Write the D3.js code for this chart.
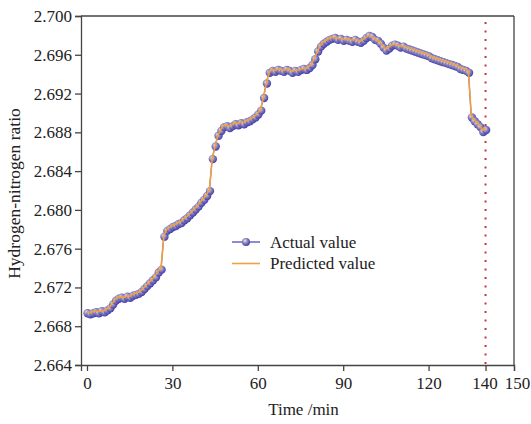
<!DOCTYPE html>
<html>
<head>
<meta charset="utf-8">
<script src="https://cdn.jsdelivr.net/npm/d3@7"></script>
<style>
  html, body { margin: 0; padding: 0; background: #fff; }
  svg { display: block; }
  text { font-family: "Liberation Serif", "Times New Roman", serif; fill: #222; }
</style>
</head>
<body>
<svg id="chart" width="531" height="424"></svg>
<script>
// Time in minutes, one sample per minute
const timeMin = d3.range(0, 141);

// Measured hydrogen-nitrogen ratio
const actualValue = [
  2.6694, 2.6693, 2.6694, 2.6695, 2.6694, 2.6696, 2.6695, 2.6697, 2.6699, 2.6703,
  2.6707, 2.6709, 2.6710, 2.6709, 2.6711, 2.6710, 2.6712, 2.6713, 2.6714, 2.6716,
  2.6719, 2.6722, 2.6725, 2.6728, 2.6731, 2.6736, 2.6739, 2.6773, 2.6779, 2.6781,
  2.6783, 2.6784, 2.6786, 2.6787, 2.6790, 2.6792, 2.6795, 2.6798, 2.6801, 2.6804,
  2.6808, 2.6811, 2.6815, 2.6820, 2.6853, 2.6866, 2.6877, 2.6882, 2.6886, 2.6887,
  2.6885, 2.6887, 2.6889, 2.6888, 2.6890, 2.6889, 2.6891, 2.6892, 2.6894, 2.6896,
  2.6899, 2.6903, 2.6916, 2.6931, 2.6942, 2.6944, 2.6943, 2.6945, 2.6944, 2.6943,
  2.6945, 2.6944, 2.6942, 2.6944, 2.6943, 2.6945, 2.6946, 2.6945, 2.6947, 2.6950,
  2.6956, 2.6964, 2.6969, 2.6972, 2.6974, 2.6976, 2.6977, 2.6978, 2.6976, 2.6977,
  2.6975, 2.6976, 2.6975, 2.6974, 2.6976, 2.6974, 2.6973, 2.6975, 2.6978, 2.6980,
  2.6979, 2.6976, 2.6975, 2.6972, 2.6968, 2.6965, 2.6967, 2.6970, 2.6971, 2.6970,
  2.6968, 2.6969, 2.6967, 2.6966, 2.6965, 2.6964, 2.6963, 2.6962, 2.6961, 2.6960,
  2.6959, 2.6957, 2.6956, 2.6955, 2.6954, 2.6953, 2.6952, 2.6951, 2.6950, 2.6949,
  2.6948, 2.6946, 2.6945, 2.6944, 2.6942, 2.6896, 2.6892, 2.6889, 2.6886, 2.6881,
  2.6883
];

// Model prediction of the ratio
const predictedValue = [
  2.6695, 2.6694, 2.6695, 2.6696, 2.6695, 2.6696, 2.6696, 2.6698, 2.6700, 2.6704,
  2.6708, 2.6710, 2.6710, 2.6710, 2.6711, 2.6711, 2.6713, 2.6714, 2.6715, 2.6717,
  2.6720, 2.6723, 2.6726, 2.6729, 2.6732, 2.6737, 2.6740, 2.6773, 2.6780, 2.6782,
  2.6784, 2.6785, 2.6787, 2.6788, 2.6791, 2.6793, 2.6796, 2.6799, 2.6802, 2.6805,
  2.6809, 2.6812, 2.6816, 2.6821, 2.6853, 2.6866, 2.6877, 2.6883, 2.6887, 2.6888,
  2.6886, 2.6888, 2.6890, 2.6889, 2.6891, 2.6890, 2.6892, 2.6893, 2.6895, 2.6897,
  2.6900, 2.6904, 2.6916, 2.6931, 2.6942, 2.6945, 2.6944, 2.6945, 2.6945, 2.6944,
  2.6945, 2.6945, 2.6943, 2.6944, 2.6944, 2.6945, 2.6946, 2.6946, 2.6948, 2.6951,
  2.6957, 2.6964, 2.6970, 2.6973, 2.6975, 2.6977, 2.6978, 2.6978, 2.6977, 2.6977,
  2.6976, 2.6976, 2.6976, 2.6975, 2.6976, 2.6975, 2.6974, 2.6976, 2.6978, 2.6980,
  2.6979, 2.6977, 2.6975, 2.6973, 2.6969, 2.6966, 2.6968, 2.6970, 2.6971, 2.6970,
  2.6969, 2.6969, 2.6968, 2.6967, 2.6966, 2.6965, 2.6964, 2.6963, 2.6962, 2.6961,
  2.6960, 2.6958, 2.6957, 2.6956, 2.6955, 2.6954, 2.6953, 2.6952, 2.6951, 2.6950,
  2.6949, 2.6947, 2.6946, 2.6945, 2.6943, 2.6897, 2.6893, 2.6890, 2.6887, 2.6882,
  2.6884
];

const xTicks = [0, 30, 60, 90, 120, 140, 150];
const yTicks = [2.664, 2.668, 2.672, 2.676, 2.680, 2.684, 2.688, 2.692, 2.696, 2.700];
const forecastMarker = [140];
const legendLabels = ["Actual value", "Predicted value"];

const W = 531, H = 424;
const margin = { top: 16, right: 17, bottom: 59, left: 81 };
const innerW = W - margin.left - margin.right;
const innerH = H - margin.top - margin.bottom;

const svg = d3.select("#chart");

// Sphere-like shading for the data markers
const defs = svg.append("defs");
const grad = defs.append("radialGradient")
  .attr("id", "ball").attr("cx", "42%").attr("cy", "40%").attr("r", "62%")
  .attr("fx", "36%").attr("fy", "32%");
grad.append("stop").attr("offset", "0%").attr("stop-color", "#ebe8f2");
grad.append("stop").attr("offset", "45%").attr("stop-color", "#958cb8");
grad.append("stop").attr("offset", "100%").attr("stop-color", "#3d38b0");

const g = svg.append("g").attr("transform", `translate(${margin.left},${margin.top})`);

const x = d3.scaleLinear().domain([-2.1, 150]).range([0, innerW]);
const y = d3.scaleLinear().domain([2.664, 2.700]).range([innerH, 0]);

// Frame: top and right edges
g.append("line").attr("x1", 0).attr("x2", innerW).attr("y1", 0).attr("y2", 0)
  .attr("stroke", "#444").attr("stroke-width", 1.3);
g.append("line").attr("x1", innerW).attr("x2", innerW).attr("y1", 0).attr("y2", innerH)
  .attr("stroke", "#444").attr("stroke-width", 1.3);

// Axes
const xAxis = g.append("g").attr("transform", `translate(0,${innerH})`)
  .call(d3.axisBottom(x).tickValues(xTicks).tickFormat(d3.format("d")).tickSizeOuter(0).tickSize(6).tickPadding(6));
const yAxis = g.append("g")
  .call(d3.axisLeft(y).tickValues(yTicks).tickFormat(d3.format(".3f")).tickSizeOuter(0).tickSize(6).tickPadding(3));

[xAxis, yAxis].forEach(a => {
  a.select(".domain").attr("stroke", "#444").attr("stroke-width", 1.3);
  a.selectAll(".tick line").attr("stroke", "#444").attr("stroke-width", 1.3);
  a.selectAll(".tick text").attr("font-family", "Liberation Serif, serif")
    .attr("font-size", 17).attr("fill", "#222");
});
// Labels 140 and 150 sit close together
xAxis.selectAll(".tick text").filter(d => d === 140).attr("dx", -1);
xAxis.selectAll(".tick text").filter(d => d === 150).attr("dx", 3);

// Axis titles
g.append("text")
  .attr("x", innerW / 2 + 6).attr("y", innerH + 50)
  .attr("text-anchor", "middle").attr("font-size", 17)
  .text("Time /min");
g.append("text")
  .attr("transform", `translate(${-61},${innerH / 2 + 3}) rotate(-90)`)
  .attr("text-anchor", "middle").attr("font-size", 17.5)
  .text("Hydrogen-nitrogen ratio");

// Vertical dotted marker at the end of the record
g.selectAll(".vmark").data(forecastMarker).join("line")
  .attr("class", "vmark")
  .attr("x1", d => x(d)).attr("x2", d => x(d))
  .attr("y1", 6).attr("y2", innerH)
  .attr("stroke", "#c8383a").attr("stroke-width", 2)
  .attr("stroke-dasharray", "2,6.5");

const actualPts = timeMin.map((t, i) => [t, actualValue[i]]);
const predPts = timeMin.map((t, i) => [t, predictedValue[i]]);
const line = d3.line().x(d => x(d[0])).y(d => y(d[1]));

// Actual series: line + shaded markers
g.append("path").datum(actualPts)
  .attr("fill", "none").attr("stroke", "#5d55c0").attr("stroke-width", 1.2)
  .attr("d", line);
g.selectAll(".actual").data(actualPts).join("circle")
  .attr("class", "actual")
  .attr("cx", d => x(d[0]) + 0.6).attr("cy", d => y(d[1]) + 0.6)
  .attr("r", 4.2).attr("fill", "url(#ball)");

// Predicted series
g.append("path").datum(predPts)
  .attr("fill", "none").attr("stroke", "#f0a040").attr("stroke-width", 1.6)
  .attr("d", line);

// Legend
const lg = svg.append("g");
const lx1 = 232, lx2 = 260;
lg.append("line").attr("x1", lx1).attr("x2", lx2).attr("y1", 242).attr("y2", 242)
  .attr("stroke", "#6a62c8").attr("stroke-width", 1.5);
lg.append("circle").attr("cx", (lx1 + lx2) / 2).attr("cy", 242).attr("r", 4).attr("fill", "url(#ball)");
lg.append("line").attr("x1", lx1).attr("x2", lx2).attr("y1", 263.5).attr("y2", 263.5)
  .attr("stroke", "#f0a040").attr("stroke-width", 1.6);
lg.selectAll(".ltext").data(legendLabels).join("text")
  .attr("class", "ltext")
  .attr("x", 270).attr("y", (d, i) => 247.5 + i * 21.5)
  .attr("font-size", 17)
  .text(d => d);
</script>
</body>
</html>
